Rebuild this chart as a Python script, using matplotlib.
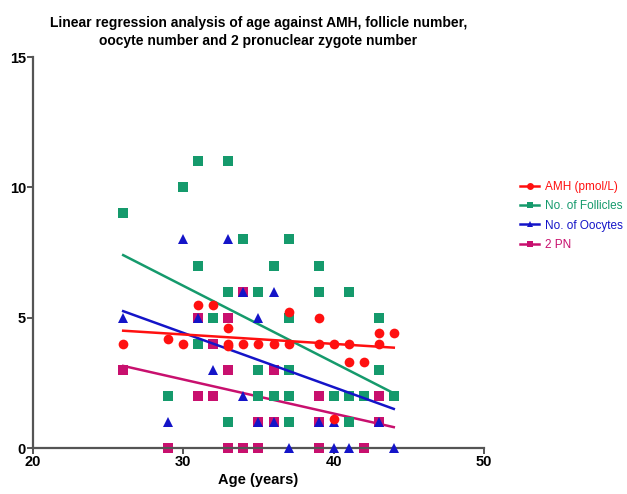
import matplotlib
matplotlib.use("Agg")
import matplotlib.pyplot as plt

plt.rcParams["font.family"] = ["Liberation Sans", "DejaVu Sans"]

# AMH (pmol/L)
amh_age = [26, 29, 30, 31, 32, 33, 33, 33, 34, 35, 36, 37, 37, 39, 39, 40, 40, 41, 41, 42, 43, 43, 44]
amh_val = [4.0, 4.2, 4.0, 5.5, 5.5, 4.6, 4.0, 3.9, 4.0, 4.0, 4.0, 5.2, 4.0, 5.0, 4.0, 4.0, 1.1, 4.0, 3.3, 3.3, 4.0, 4.4, 4.4]

# No. of Follicles
fol_age = [26, 29, 30, 31, 31, 31, 32, 33, 33, 33, 34, 35, 35, 35, 36, 36, 37, 37, 37, 37, 37, 39, 39, 40, 41, 41, 41, 42, 43, 43, 44]
fol_val = [9, 2, 10, 11, 7, 4, 5, 11, 6, 1, 8, 6, 3, 2, 7, 2, 8, 5, 3, 2, 1, 7, 6, 2, 6, 2, 1, 2, 5, 3, 2]

# No. of Oocytes
ooc_age = [26, 29, 30, 31, 32, 33, 34, 34, 35, 35, 36, 36, 37, 39, 40, 40, 41, 43, 44]
ooc_val = [5, 1, 8, 5, 3, 8, 6, 2, 5, 1, 6, 1, 0, 1, 1, 0, 0, 1, 0]

# 2 PN
pn_age = [26, 29, 31, 31, 32, 32, 33, 33, 33, 34, 34, 35, 35, 36, 36, 39, 39, 39, 42, 43, 43]
pn_val = [3, 0, 5, 2, 4, 2, 5, 3, 0, 6, 0, 1, 0, 3, 1, 2, 1, 0, 0, 2, 1]

# regression lines
fit_age = [26, 44]
amh_fit = [4.5, 3.85]
fol_fit = [7.4, 2.1]
ooc_fit = [5.25, 1.5]
pn_fit = [3.15, 0.8]

RED = "#ff1010"
GREEN = "#159a6c"
BLUE = "#1414c8"
MAGENTA = "#c8106e"

fig = plt.figure(figsize=(6.27, 4.94), dpi=100)
ax = fig.add_axes([0.0526, 0.0931, 0.7193, 0.7915])

series = [
    ("AMH (pmol/L)", amh_age, amh_val, amh_fit, RED, "o", 7.0, 5),
    ("No. of Follicles", fol_age, fol_val, fol_fit, GREEN, "s", 6.5, 3),
    ("No. of Oocytes", ooc_age, ooc_val, ooc_fit, BLUE, "^", 6.5, 4),
    ("2 PN", pn_age, pn_val, pn_fit, MAGENTA, "s", 6.5, 2),
]

handles = []
for label, xs, ys, fit, color, marker, ms, z in series:
    ax.plot(xs, ys, linestyle="none", marker=marker, markersize=ms,
            color=color, markeredgewidth=0, zorder=z, clip_on=False)
    ax.plot(fit_age, fit, color=color, linewidth=1.8, zorder=z)
    h, = ax.plot([], [], color=color, marker=marker, markersize=5,
                 linewidth=1.8, markeredgewidth=0, label=label)
    handles.append(h)

ax.set_xlim(20, 50)
ax.set_ylim(0, 15)
ax.set_xticks([20, 30, 40, 50])
ax.set_yticks([0, 5, 10, 15])

for side in ["top", "right"]:
    ax.spines[side].set_visible(False)
for side in ["left", "bottom"]:
    ax.spines[side].set_color("#555555")
    ax.spines[side].set_linewidth(1.6)
ax.tick_params(axis="both", which="major", direction="out", length=4,
               width=1.4, color="#555555", labelsize=10.5, pad=1)
for lbl in ax.get_xticklabels() + ax.get_yticklabels():
    lbl.set_fontweight("bold")

ax.set_xlabel("Age (years)", fontsize=10.5, fontweight="bold", labelpad=3)
ax.set_title("Linear regression analysis of age against AMH, follicle number,\n"
             "oocyte number and 2 pronuclear zygote number",
             fontsize=10, fontweight="bold", pad=9, linespacing=1.35)

leg = ax.legend(handles=handles, loc="upper left", bbox_to_anchor=(1.07, 0.695),
                frameon=False, fontsize=8.5, handlelength=1.6, handletextpad=0.5,
                labelspacing=0.62, borderaxespad=0)
for text, (_, _, _, _, color, _, _, _) in zip(leg.get_texts(), series):
    text.set_color(color)

fig.savefig("out.png", dpi=100)
